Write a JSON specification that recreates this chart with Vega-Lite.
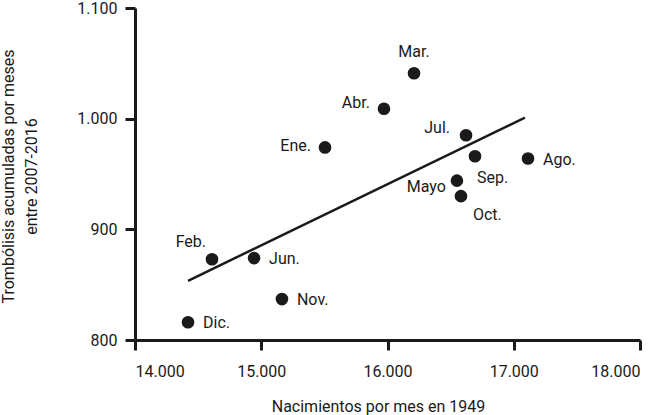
{
  "$schema": "https://vega.github.io/schema/vega-lite/v6.json",
  "width": 505,
  "height": 332,
  "autosize": "none",
  "padding": {"left": 135, "top": 8, "right": 25, "bottom": 75},
  "background": "white",
  "config": {
    "font": "Roboto",
    "view": {"stroke": null},
    "text": {"font": "Roboto"},
    "axis": {
      "grid": false,
      "domainColor": "#1a1a1a",
      "domainWidth": 3,
      "tickColor": "#1a1a1a",
      "tickWidth": 3,
      "tickSize": 10,
      "labelFont": "Roboto",
      "labelFontSize": 16,
      "labelColor": "#1a1a1a",
      "titleFont": "Roboto",
      "titleFontSize": 16,
      "titleFontWeight": "normal",
      "titleColor": "#1a1a1a"
    }
  },
  "datasets": {
    "months": [
      {"mes": "Ene.", "nacimientos": 15505, "trombolisis": 974},
      {"mes": "Feb.", "nacimientos": 14610, "trombolisis": 873},
      {"mes": "Mar.", "nacimientos": 16210, "trombolisis": 1041},
      {"mes": "Abr.", "nacimientos": 15972, "trombolisis": 1009},
      {"mes": "Mayo", "nacimientos": 16550, "trombolisis": 944},
      {"mes": "Jun.", "nacimientos": 14943, "trombolisis": 874},
      {"mes": "Jul.", "nacimientos": 16622, "trombolisis": 985},
      {"mes": "Ago.", "nacimientos": 17113, "trombolisis": 964},
      {"mes": "Sep.", "nacimientos": 16693, "trombolisis": 966},
      {"mes": "Oct.", "nacimientos": 16582, "trombolisis": 930},
      {"mes": "Nov.", "nacimientos": 15164, "trombolisis": 837},
      {"mes": "Dic.", "nacimientos": 14420, "trombolisis": 816}
    ],
    "trend": [
      {"nacimientos": 14420, "trombolisis": 853.5},
      {"nacimientos": 17089, "trombolisis": 1001}
    ]
  },
  "layer": [
    {
      "data": {"name": "trend"},
      "mark": {"type": "line", "color": "#1a1a1a", "strokeWidth": 2.5},
      "encoding": {
        "x": {
          "field": "nacimientos", "type": "quantitative",
          "scale": {"domain": [14000, 18000], "nice": false},
          "axis": {
            "values": [14000, 15000, 16000, 17000, 18000],
            "format": ",d",
            "labelExpr": "replace(datum.label, ',', '.')",
            "labelPadding": 13,
            "title": "Nacimientos por mes en 1949",
            "titleX": 243,
            "titleY": 71,
            "titleBaseline": "alphabetic",
            "titleAnchor": "middle",
            "titleAlign": "center"
          }
        },
        "y": {
          "field": "trombolisis", "type": "quantitative",
          "scale": {"domain": [800, 1100], "nice": false, "zero": false},
          "axis": {
            "values": [800, 900, 1000, 1100],
            "format": ",d",
            "labelExpr": "replace(datum.label, ',', '.')",
            "labelPadding": 8,
            "title": ["Trombólisis acumuladas por meses", "entre 2007-2016"],
            "titleX": -135,
            "titleY": 168,
            "titleAngle": -90,
            "titleBaseline": "top",
            "titleAlign": "center",
            "titleLineHeight": 23
          }
        }
      }
    },
    {
      "data": {"name": "months"},
      "mark": {"type": "circle", "color": "#1a1a1a", "opacity": 1, "size": 160},
      "encoding": {
        "x": {"field": "nacimientos", "type": "quantitative"},
        "y": {"field": "trombolisis", "type": "quantitative"}
      }
    },
    {
      "data": {"name": "months"},
      "transform": [{"filter": "datum.mes == 'Mar.'"}],
      "mark": {"type": "text", "fontSize": 16, "color": "#1a1a1a", "align": "center", "baseline": "middle", "dy": -21},
      "encoding": {"x": {"field": "nacimientos", "type": "quantitative"}, "y": {"field": "trombolisis", "type": "quantitative"}, "text": {"field": "mes"}}
    },
    {
      "data": {"name": "months"},
      "transform": [{"filter": "datum.mes == 'Abr.'"}],
      "mark": {"type": "text", "fontSize": 16, "color": "#1a1a1a", "align": "right", "baseline": "middle", "dx": -14, "dy": -6},
      "encoding": {"x": {"field": "nacimientos", "type": "quantitative"}, "y": {"field": "trombolisis", "type": "quantitative"}, "text": {"field": "mes"}}
    },
    {
      "data": {"name": "months"},
      "transform": [{"filter": "datum.mes == 'Ene.'"}],
      "mark": {"type": "text", "fontSize": 16, "color": "#1a1a1a", "align": "right", "baseline": "middle", "dx": -14, "dy": -1},
      "encoding": {"x": {"field": "nacimientos", "type": "quantitative"}, "y": {"field": "trombolisis", "type": "quantitative"}, "text": {"field": "mes"}}
    },
    {
      "data": {"name": "months"},
      "transform": [{"filter": "datum.mes == 'Jul.'"}],
      "mark": {"type": "text", "fontSize": 16, "color": "#1a1a1a", "align": "right", "baseline": "middle", "dx": -16, "dy": -7},
      "encoding": {"x": {"field": "nacimientos", "type": "quantitative"}, "y": {"field": "trombolisis", "type": "quantitative"}, "text": {"field": "mes"}}
    },
    {
      "data": {"name": "months"},
      "transform": [{"filter": "datum.mes == 'Sep.'"}],
      "mark": {"type": "text", "fontSize": 16, "color": "#1a1a1a", "align": "left", "baseline": "middle", "dx": 2, "dy": 22},
      "encoding": {"x": {"field": "nacimientos", "type": "quantitative"}, "y": {"field": "trombolisis", "type": "quantitative"}, "text": {"field": "mes"}}
    },
    {
      "data": {"name": "months"},
      "transform": [{"filter": "datum.mes == 'Mayo'"}],
      "mark": {"type": "text", "fontSize": 16, "color": "#1a1a1a", "align": "right", "baseline": "middle", "dx": -11, "dy": 6},
      "encoding": {"x": {"field": "nacimientos", "type": "quantitative"}, "y": {"field": "trombolisis", "type": "quantitative"}, "text": {"field": "mes"}}
    },
    {
      "data": {"name": "months"},
      "transform": [{"filter": "datum.mes == 'Oct.'"}],
      "mark": {"type": "text", "fontSize": 16, "color": "#1a1a1a", "align": "left", "baseline": "middle", "dx": 12, "dy": 19},
      "encoding": {"x": {"field": "nacimientos", "type": "quantitative"}, "y": {"field": "trombolisis", "type": "quantitative"}, "text": {"field": "mes"}}
    },
    {
      "data": {"name": "months"},
      "transform": [{"filter": "datum.mes == 'Feb.'"}],
      "mark": {"type": "text", "fontSize": 16, "color": "#1a1a1a", "align": "right", "baseline": "middle", "dx": -6, "dy": -17},
      "encoding": {"x": {"field": "nacimientos", "type": "quantitative"}, "y": {"field": "trombolisis", "type": "quantitative"}, "text": {"field": "mes"}}
    },
    {
      "data": {"name": "months"},
      "transform": [{"filter": "datum.mes == 'Ago.' || datum.mes == 'Jun.' || datum.mes == 'Nov.' || datum.mes == 'Dic.'"}],
      "mark": {"type": "text", "fontSize": 16, "color": "#1a1a1a", "align": "left", "baseline": "middle", "dx": 15, "dy": 1},
      "encoding": {"x": {"field": "nacimientos", "type": "quantitative"}, "y": {"field": "trombolisis", "type": "quantitative"}, "text": {"field": "mes"}}
    }
  ]
}
